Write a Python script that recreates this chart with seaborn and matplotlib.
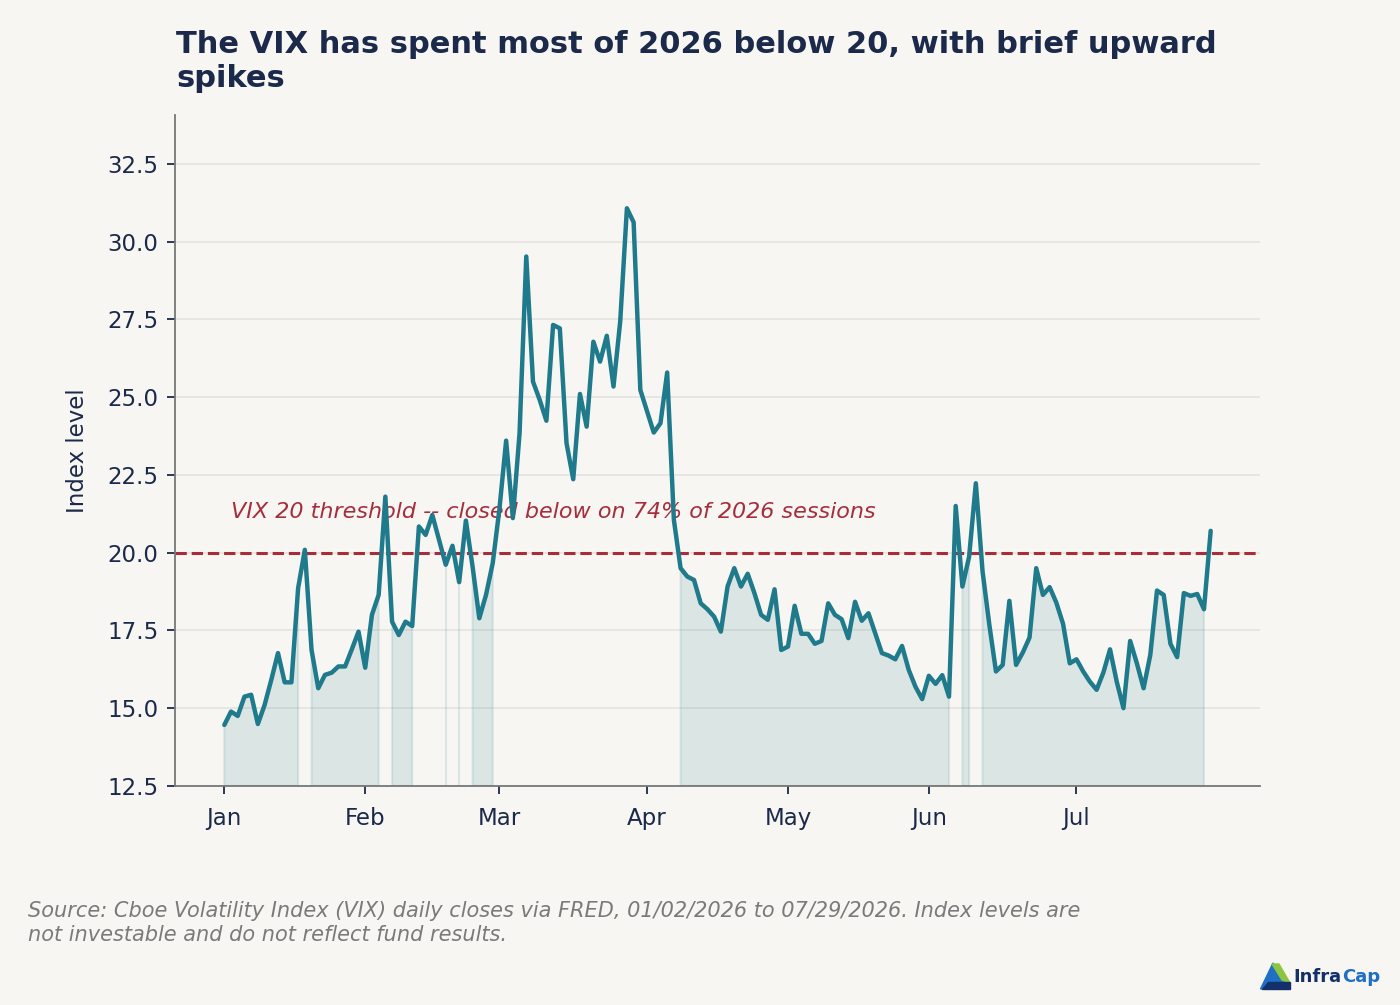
import numpy as np
import pandas as pd
import seaborn as sns
import matplotlib.pyplot as plt
from matplotlib.patches import Polygon

# daily VIX closes, one list per month
vix_jan = [14.46, 14.89, 14.75, 15.37, 15.43, 14.49, 15.10, 15.91, 16.77, 15.83, 15.83,
           18.86, 20.09, 16.87, 15.64, 16.07, 16.14, 16.34, 16.34, 16.89, 17.46]
vix_feb = [16.30, 18.00, 18.64, 21.80, 17.78, 17.35, 17.78, 17.64, 20.84, 20.57, 21.21,
           20.41, 19.61, 20.22, 19.05, 21.03, 19.55, 17.89, 18.64, 19.66]
vix_mar = [21.40, 23.60, 21.11, 23.84, 29.52, 25.50, 24.91, 24.24, 27.32, 27.21, 23.52,
           22.36, 25.10, 24.05, 26.78, 26.14, 26.97, 25.34, 27.43, 31.07, 30.62, 25.23]
vix_apr = [24.54, 23.86, 24.16, 25.79, 21.05, 19.50, 19.23, 19.12, 18.37, 18.18, 17.94,
           17.46, 18.91, 19.50, 18.91, 19.32, 18.70, 18.00, 17.84, 18.82, 16.87]
vix_may = [16.98, 18.29, 17.39, 17.39, 17.07, 17.16, 18.37, 18.00, 17.86, 17.25, 18.42,
           17.81, 18.05, 17.41, 16.77, 16.69, 16.57, 17.00, 16.23, 15.69, 15.29]
vix_jun = [16.04, 15.78, 16.06, 15.37, 21.50, 18.91, 19.87, 22.23, 19.40, 17.70, 16.18,
           16.39, 18.45, 16.39, 16.79, 17.27, 19.50, 18.64, 18.89, 18.39, 17.71, 16.44]
vix_jul = [16.57, 16.18, 15.85, 15.59, 16.14, 16.89, 15.85, 15.00, 17.16, 16.44, 15.64,
           16.71, 18.78, 18.64, 17.07, 16.64, 18.70, 18.61, 18.67, 18.18, 20.70]

month_labels = ['Jan', 'Feb', 'Mar', 'Apr', 'May', 'Jun', 'Jul']
threshold = 20

months = [vix_jan, vix_feb, vix_mar, vix_apr, vix_may, vix_jun, vix_jul]
vix = np.concatenate(months)
idx = np.arange(len(vix))
df = pd.DataFrame({'session': idx, 'vix': vix})

# first session of each month for the x ticks
month_starts = np.cumsum([0] + [len(m) for m in months[:-1]])
share_below = (vix < threshold).mean()

bg = '#f7f6f2'
navy = '#1b2a4a'
teal = '#1f7a8c'
red = '#a62d3c'

sns.set_theme(style='white')
plt.rcParams['font.family'] = ['DejaVu Sans']

fig = plt.figure(figsize=(14, 10.05), dpi=100, facecolor=bg)
ax = fig.add_axes([0.125, 0.218, 0.775, 0.6676])
ax.set_facecolor(bg)

ax.fill_between(idx, vix, 12.5, where=vix < threshold, color=teal, alpha=0.13,
                linewidth=1.5, interpolate=False, zorder=1)
sns.lineplot(data=df, x='session', y='vix', ax=ax, color=teal, linewidth=3.2, zorder=3)
ax.axhline(threshold, color=red, linestyle='--', linewidth=2.2, zorder=2)

ax.text(1, 21.3, f'VIX 20 threshold -- closed below on {share_below:.0%} of 2026 sessions',
        color=red, fontsize=16, style='italic', va='center', ha='left', zorder=2)

ax.set_ylim(12.5, vix.max() + 3)
ax.set_yticks(np.arange(12.5, 33, 2.5))
ax.set_yticklabels([f'{t:.1f}' for t in np.arange(12.5, 33, 2.5)])
ax.set_xticks(month_starts)
ax.set_xticklabels(month_labels)
ax.set_xlabel('')
ax.set_ylabel('Index level', fontsize=16.5, color=navy, labelpad=13)

ax.grid(axis='y', color='#e4e3df', linewidth=1.2)
ax.set_axisbelow(True)
for s in ['top', 'right']:
    ax.spines[s].set_visible(False)
for s in ['left', 'bottom']:
    ax.spines[s].set_color('#777777')
    ax.spines[s].set_linewidth(1.3)
ax.tick_params(axis='both', colors=navy, labelsize=16.5, length=6, width=1.3,
               direction='out', left=True, bottom=True)
ax.tick_params(axis='x', pad=9.5)
ax.tick_params(axis='y', pad=6)

fig.text(0.1257, 1 - 30 / 1005,
         'The VIX has spent most of 2026 below 20, with brief upward\nspikes',
         fontsize=22, fontweight='bold', color=navy, ha='left', va='top', linespacing=1.2)

fig.text(0.02, 1 - 901 / 1005,
         'Source: Cboe Volatility Index (VIX) daily closes via FRED, 01/02/2026 to 07/29/2026. Index levels are\n'
         'not investable and do not reflect fund results.',
         fontsize=15, style='italic', color='#7a7a7a', ha='left', va='top', linespacing=1.24)

# InfraCap logo
def px(x, y):
    return (x / 1400, 1 - y / 1005)

fig.add_artist(Polygon([px(1273, 963), px(1260.5, 989), px(1290, 989)], closed=True,
                       transform=fig.transFigure, color='#1f6fc5'))
fig.add_artist(Polygon([px(1272, 964), px(1279, 964), px(1290, 983), px(1282, 980)], closed=True,
                       transform=fig.transFigure, color='#8cc63f'))
fig.add_artist(Polygon([px(1268, 982), px(1290, 982), px(1290, 989), px(1262, 989)], closed=True,
                       transform=fig.transFigure, color='#14306b'))
fig.text(1293 / 1400, 1 - 977 / 1005, 'Infra', fontsize=13, fontweight='bold', color='#14306b',
         ha='left', va='center')
fig.text(1342 / 1400, 1 - 977 / 1005, 'Cap', fontsize=13, fontweight='bold', color='#1f6fc5',
         ha='left', va='center')

fig.savefig('out.png', dpi=100, facecolor=bg)
